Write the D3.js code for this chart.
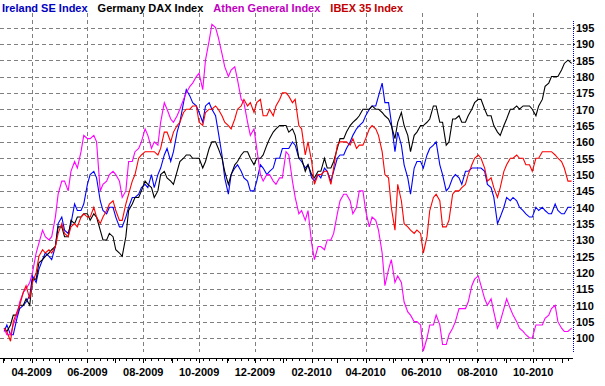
<!DOCTYPE html>
<html><head><meta charset="utf-8">
<script src="https://cdn.jsdelivr.net/npm/d3@7"></script>
<style>
body{margin:0;background:#fff}
svg text{font-family:"Liberation Sans",Arial,sans-serif;font-weight:bold;font-size:11px}
</style>
</head><body>
<svg id="c" width="605" height="386"></svg>
<script>
// ---- data ----
const seriesNames = ["Ireland SE Index", "Germany DAX Index", "Athen General Index", "IBEX 35 Index"];
const seriesColors = ["#0000ff", "#000000", "#ff00ff", "#ff0000"];
const legendColors = ["#0000c0", "#000000", "#c000c0", "#c00000"];
// sample dates: Mondays and Thursdays, plus the last trading day
const dates = d3.timeMonday.range(new Date(2009, 2, 2), new Date(2010, 10, 9))
  .concat(d3.timeThursday.range(new Date(2009, 2, 5), new Date(2010, 10, 5)))
  .concat([new Date(2010, 10, 12)])
  .sort((a, b) => a - b);
// values (Mon, Thu pairs)
const ireland = [
102,104, 101,101, 106,109, 110,111, 113,119, 117,121, 124,126, 125,124, 128,135, 137,133,
132,135, 141,139, 139,141, 147,150, 151,149, 142,139, 138,140, 140,137, 134,134, 137,140,
143,143, 144,146, 147,146, 150,146, 150,152, 156,158, 154,157, 163,166, 172,176, 174,172,
171,169, 166,171, 172,170, 168,163, 156,149, 144,150, 152,153, 151,149, 148,145, 145,148,
153,152, 150,151, 152,155, 155,158, 158,158, 160,159, 155,154, 152,153, 149,148, 150,149,
152,151, 148,151, 155,156, 156,158, 160,162, 164,165, 166,168, 170,171, 171,174, 178,172,
172,166, 157,163, 159,153, 149,144, 152,154, 154,152, 156,158, 159,160, 153,150, 145,146,
149,150, 149,147, 151,151, 152,152, 152,152, 151,147, 146,143, 135,137, 140,143, 142,143,
142,140, 139,138, 137,137, 140,139, 140,139, 138,138, 141,139, 138,138, 140,140];
const germany = [
103,102, 104,107, 107,110, 110,112, 110,118, 118,123, 124,125, 126,127, 128,134, 134,131,
131,136, 135,137, 137,138, 138,136, 138,137, 133,130, 130,132, 131,127, 126,125, 131,139,
141,143, 143,145, 148,147, 146,143, 145,150, 151,149, 148,147, 151,154, 155,156, 156,155,
155,155, 152,154, 158,160, 160,158, 155,151, 147,150, 153,154, 156,157, 157,155, 153,155,
155,156, 159,161, 163,164, 165,165, 165,163, 164,162, 155,155, 151,153, 150,149, 151,151,
155,152, 152,154, 158,161, 161,163, 165,166, 167,168, 170,170, 170,171, 170,170, 169,168,
167,165, 161,166, 169,165, 162,157, 162,163, 165,165, 166,167, 171,171, 166,166, 159,160,
167,167, 168,166, 166,168, 170,172, 173,173, 170,168, 168,165, 163,162, 165,167, 170,170,
171,170, 171,171, 171,170, 168,171, 173,177, 178,180, 180,180, 182,184, 185,184];
const athens = [
103,101, 101,104, 107,111, 114,115, 117,120, 126,129, 133,131, 130,131, 137,144, 148,148,
145,151, 154,152, 157,162, 161,161, 162,160, 145,147, 148,150, 151,150, 148,143, 145,154,
154,157, 158,160, 164,162, 158,160, 159,166, 172,170, 167,166, 168,170, 173,175, 177,178,
180,181, 176,185, 191,196, 195,192, 187,183, 180,182, 183,179, 173,172, 166,162, 164,158,
150,148, 150,150, 148,147, 149,149, 157,156, 148,143, 138,139, 136,139, 129,124, 128,128,
127,130, 130,132, 138,142, 144,144, 142,138, 140,145, 145,139, 134,137, 136,133, 126,116,
121,124, 117,119, 117,111, 108,107, 105,105, 104,96, 100,104, 104,107, 104,98, 98,101,
103,105, 109,109, 109,111, 116,118, 119,116, 112,110, 112,108, 103,105, 109,112, 109,107,
105,103, 102,101, 100,100, 104,104, 104,106, 107,109, 110,105, 103,102, 102,103];
const ibex = [
103,102, 99,105, 108,110, 114,116, 112,117, 120,125, 127,126, 127,126, 128,132, 135,132,
131,134, 135,134, 137,138, 137,137, 140,137, 135,137, 139,141, 142,139, 136,136, 141,144,
148,150, 155,156, 157,157, 157,157, 156,158, 163,163, 160,163, 165,166, 169,170, 170,171,
171,166, 165,169, 170,170, 171,170, 168,166, 165,164, 167,170, 171,173, 171,172, 169,172,
173,168, 168,170, 168,171, 173,175, 175,174, 172,173, 165,164, 156,160, 154,147, 150,150,
151,151, 147,152, 159,160, 160,160, 159,161, 158,159, 159,161, 164,165, 164,162, 157,150,
149,140, 133,147, 142,135, 134,133, 132,133, 132,126, 131,139, 143,144, 142,134, 134,136,
144,145, 145,146, 147,150, 153,155, 156,155, 152,148, 149,146, 143,146, 151,153, 155,155,
156,155, 155,153, 153,151, 155,155, 157,157, 157,157, 156,155, 154,152, 148,148];
const yTickValues = [100,105,110,115,120,125,130,135,140,145,150,155,160,165,170,175,180,185,190,195];
const xTickLabels = ["04-2009","06-2009","08-2009","10-2009","12-2009","02-2010","04-2010","06-2010","08-2010","10-2010"];

// ---- layout ----
const svg = d3.select("#c");
const plotRight = 573, plotTop = 13, plotBottom = 352, axisY = 358;
const x = d3.scaleTime().domain([new Date(2009,1,25,12), new Date(2010,10,13,12)]).range([0, plotRight]);
const y = d3.scaleLinear().domain([100,195]).range([338, 27.5]);
const parse = d3.timeParse("%m-%Y");
const xTickDates = xTickLabels.map(parse);

// gridlines
const grid = svg.append("g").attr("stroke","#808080").attr("stroke-dasharray","4,3").attr("shape-rendering","crispEdges");
grid.selectAll("line.h").data(yTickValues).join("line").attr("class","h")
  .attr("x1",0).attr("x2",plotRight-1).attr("y1",d=>Math.round(y(d))+0.5).attr("y2",d=>Math.round(y(d))+0.5);
grid.selectAll("line.v").data(xTickDates).join("line").attr("class","v")
  .attr("y1",plotTop).attr("y2",plotBottom).attr("x1",d=>Math.round(x(d))+0.5).attr("x2",d=>Math.round(x(d))+0.5);

// series
const allSeries = [ireland, germany, athens, ibex];
const line = d3.line().x((d,i)=>x(dates[i])).y(d=>y(d));
svg.append("g").selectAll("path").data(allSeries).join("path")
  .attr("d", d=>line(d)).attr("fill","none")
  .attr("stroke",(d,i)=>seriesColors[i]).attr("stroke-width",1.1).attr("stroke-linejoin","miter");

// right axis
svg.append("line").attr("x1",plotRight+0.5).attr("x2",plotRight+0.5).attr("y1",21).attr("y2",plotBottom)
  .attr("stroke","#0000cc").attr("stroke-dasharray","1,1");
const yAxis = d3.axisRight(y).tickValues(yTickValues).tickSize(2).tickPadding(1).tickFormat(d3.format("d"));
const gy = svg.append("g").attr("transform",`translate(${plotRight},0)`).call(yAxis);
gy.select(".domain").remove();
gy.selectAll("line").attr("stroke","#000");
gy.selectAll("text").attr("fill","#000").attr("dy","0.36em").style("font-size","11px");

// bottom axis
const minorAxis = d3.axisBottom(x).ticks(d3.timeMonday.every(1)).tickSize(3).tickFormat("").tickSizeOuter(0);
const gx = svg.append("g").attr("transform",`translate(0,${axisY})`).call(minorAxis);
gx.select(".domain").attr("d",`M0,0.5H${plotRight}`).attr("stroke","#000");
gx.selectAll("line").attr("stroke","#000").attr("shape-rendering","crispEdges");
const monthAxis = d3.axisBottom(x).ticks(d3.timeMonth.every(1)).tickSize(5).tickFormat("").tickSizeOuter(0);
const gm = svg.append("g").attr("transform",`translate(0,${axisY})`).call(monthAxis);
gm.select(".domain").remove();
gm.selectAll("line").attr("stroke","#000").attr("shape-rendering","crispEdges");
svg.append("g").selectAll("text").data(xTickLabels).join("text")
  .attr("x",(d,i)=>x(xTickDates[i])).attr("y",376).attr("text-anchor","middle").attr("fill","#000").text(d=>d);

// legend
let lx = 2;
const lg = svg.append("g");
seriesNames.forEach((n,i)=>{
  const t = lg.append("text").attr("x",lx).attr("y",12).attr("fill",legendColors[i]).text(n);
  lx += t.node().getComputedTextLength() + 10;
});
</script>
</body></html>
